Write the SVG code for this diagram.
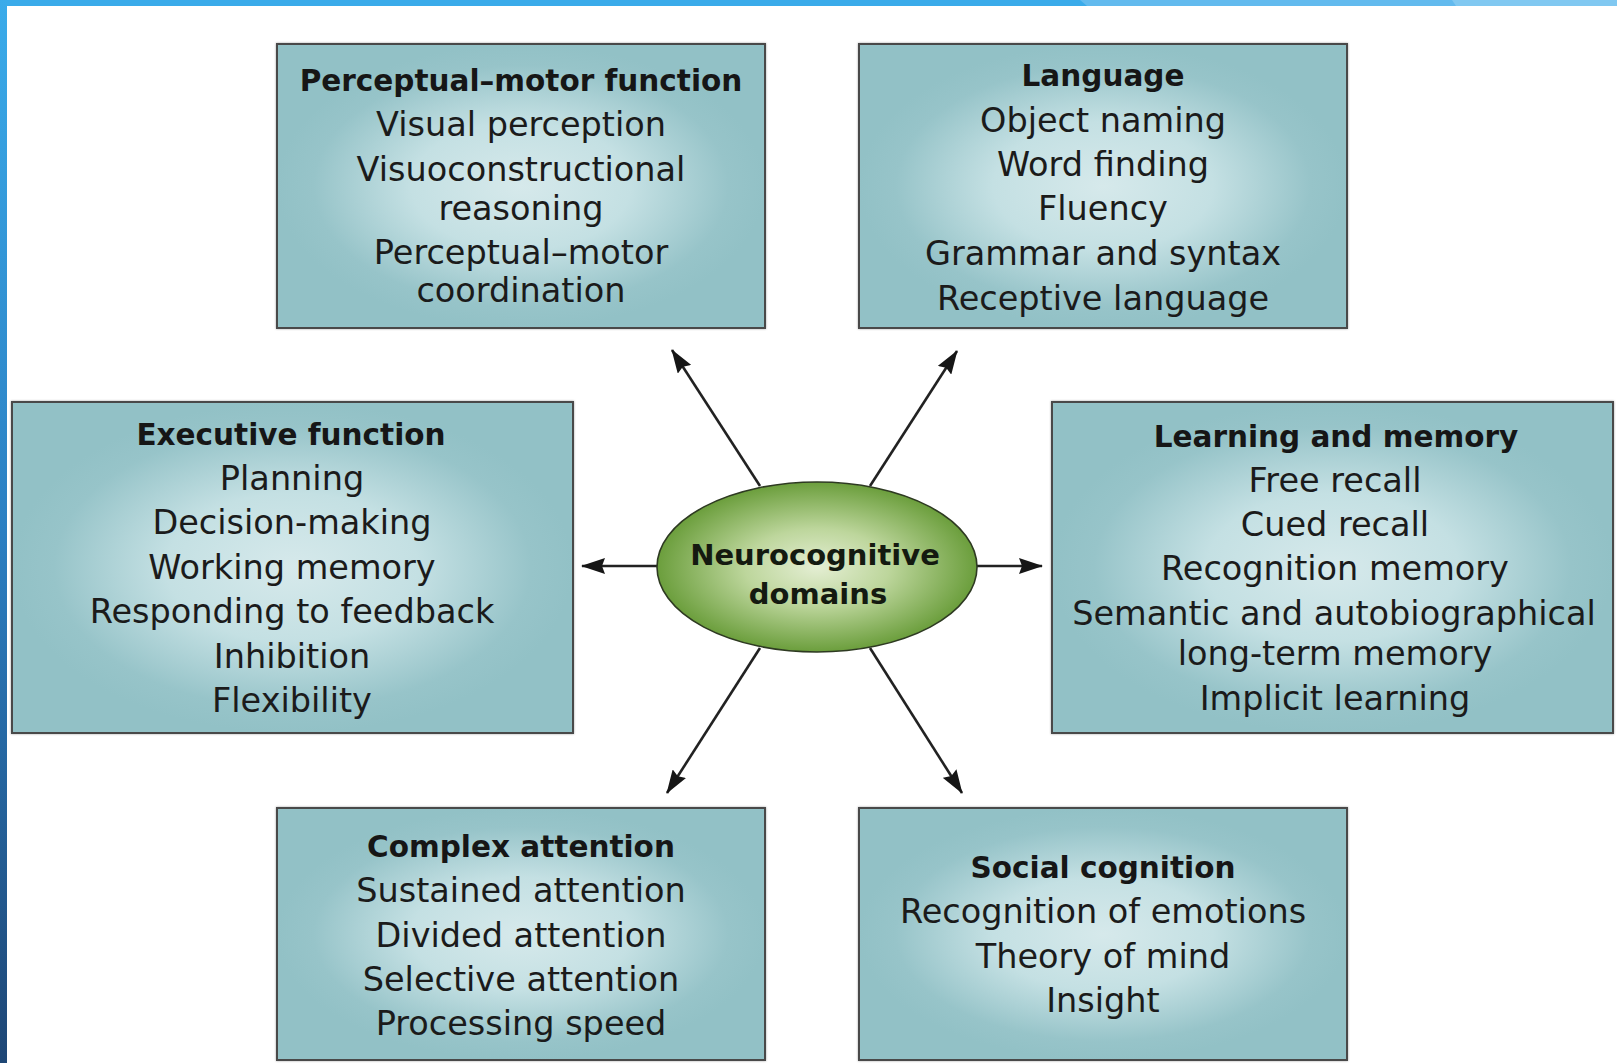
<svg xmlns="http://www.w3.org/2000/svg" width="1617" height="1063" viewBox="0 0 1617 1063">
  <style>
    .box { fill: url(#boxFill); stroke: #4a4a4a; stroke-width: 2; filter: url(#soft); }
    .hub { fill: url(#hubFill); stroke: #2e3a22; stroke-width: 1.6; }
    .t { font-family: "DejaVu Sans", "Liberation Sans", sans-serif; font-size: 33.5px; fill: #1b1b1b; text-anchor: middle; }
    .h { font-family: "DejaVu Sans", "Liberation Sans", sans-serif; font-size: 29.5px; font-weight: bold; fill: #161616; text-anchor: middle; }
    .c { font-family: "DejaVu Sans", "Liberation Sans", sans-serif; font-size: 29px; font-weight: bold; fill: #141a10; text-anchor: middle; }
    .arrow { stroke: #222; stroke-width: 2.6; fill: none; marker-end: url(#head); }
  </style>
  <defs>
    <radialGradient id="boxFill" cx="0.5" cy="0.5" r="0.5">
      <stop offset="0" stop-color="#d6e9eb"/>
      <stop offset="0.45" stop-color="#c4e0e3"/>
      <stop offset="0.85" stop-color="#97c4c9"/>
      <stop offset="1" stop-color="#92c1c6"/>
    </radialGradient>
    <radialGradient id="hubFill" cx="0.5" cy="0.5" r="0.5">
      <stop offset="0" stop-color="#e4eed3"/>
      <stop offset="0.45" stop-color="#bdd69c"/>
      <stop offset="1" stop-color="#6b9e3c"/>
    </radialGradient>
    <linearGradient id="sideBar" x1="0" y1="0" x2="0" y2="1">
      <stop offset="0" stop-color="#3aabea"/>
      <stop offset="0.5" stop-color="#2b7fc2"/>
      <stop offset="1" stop-color="#1e4675"/>
    </linearGradient>
    <filter id="soft" x="-5%" y="-5%" width="110%" height="110%">
      <feDropShadow dx="0" dy="0" stdDeviation="1.2" flood-color="#000" flood-opacity="0.35"/>
    </filter>
    <marker id="head" viewBox="0 0 24 16" refX="23" refY="8" markerWidth="24" markerHeight="16" markerUnits="userSpaceOnUse" orient="auto">
      <path d="M0,0 L24,8 L0,16 L3,8 Z" fill="#161616"/>
    </marker>
  </defs>

  <!-- page frame -->
  <rect x="0" y="0" width="1617" height="1063" fill="#ffffff"/>
  <rect x="0" y="0" width="1617" height="6" fill="#3aabea"/>
  <path d="M1080,0 L1617,0 L1617,6 L1087,6 Z" fill="#62baee"/>
  <path d="M1452,0 L1617,0 L1617,6 L1456,6 Z" fill="#80c8f1"/>
  <rect x="0" y="0" width="7" height="1063" fill="url(#sideBar)"/>

  <!-- connectors -->
  <g id="connectors">
    <line class="arrow" x1="760" y1="486" x2="672" y2="350"/>
    <line class="arrow" x1="870" y1="486" x2="957" y2="351"/>
    <line class="arrow" x1="658" y1="566" x2="582" y2="566"/>
    <line class="arrow" x1="977" y1="566" x2="1042" y2="566"/>
    <line class="arrow" x1="760" y1="648" x2="667" y2="793"/>
    <line class="arrow" x1="870" y1="648" x2="962" y2="793"/>
  </g>

  <g id="perceptual-motor">
    <rect class="box" x="277" y="44" width="488" height="284"/>
    <text class="h" x="521" y="91">Perceptual–motor function</text>
    <text class="t" x="521" y="136">Visual perception</text>
    <text class="t" x="521" y="181">Visuoconstructional</text>
    <text class="t" x="521" y="220">reasoning</text>
    <text class="t" x="521" y="264">Perceptual–motor</text>
    <text class="t" x="521" y="302">coordination</text>
  </g>

  <g id="language">
    <rect class="box" x="859" y="44" width="488" height="284"/>
    <text class="h" x="1103" y="86">Language</text>
    <text class="t" x="1103" y="132">Object naming</text>
    <text class="t" x="1103" y="176">Word finding</text>
    <text class="t" x="1103" y="220">Fluency</text>
    <text class="t" x="1103" y="265">Grammar and syntax</text>
    <text class="t" x="1103" y="310">Receptive language</text>
  </g>

  <g id="executive">
    <rect class="box" x="12" y="402" width="561" height="331"/>
    <text class="h" x="291" y="445">Executive function</text>
    <text class="t" x="292" y="490">Planning</text>
    <text class="t" x="292" y="534">Decision-making</text>
    <text class="t" x="292" y="579">Working memory</text>
    <text class="t" x="292" y="623">Responding to feedback</text>
    <text class="t" x="292" y="668">Inhibition</text>
    <text class="t" x="292" y="712">Flexibility</text>
  </g>

  <g id="learning-memory">
    <rect class="box" x="1052" y="402" width="561" height="331"/>
    <text class="h" x="1336" y="447">Learning and memory</text>
    <text class="t" x="1335" y="492">Free recall</text>
    <text class="t" x="1335" y="536">Cued recall</text>
    <text class="t" x="1335" y="580">Recognition memory</text>
    <text class="t" x="1334" y="625">Semantic and autobiographical</text>
    <text class="t" x="1335" y="665">long-term memory</text>
    <text class="t" x="1335" y="710">Implicit learning</text>
  </g>

  <g id="complex-attention">
    <rect class="box" x="277" y="808" width="488" height="252"/>
    <text class="h" x="521" y="857">Complex attention</text>
    <text class="t" x="521" y="902">Sustained attention</text>
    <text class="t" x="521" y="947">Divided attention</text>
    <text class="t" x="521" y="991">Selective attention</text>
    <text class="t" x="521" y="1035">Processing speed</text>
  </g>

  <g id="social-cognition">
    <rect class="box" x="859" y="808" width="488" height="252"/>
    <text class="h" x="1103" y="878">Social cognition</text>
    <text class="t" x="1103" y="923">Recognition of emotions</text>
    <text class="t" x="1103" y="968">Theory of mind</text>
    <text class="t" x="1103" y="1012">Insight</text>
  </g>

  <g id="neurocognitive-domains">
    <ellipse class="hub" cx="817" cy="567" rx="160" ry="85"/>
    <text class="c" x="815" y="565">Neurocognitive</text>
    <text class="c" x="818" y="604">domains</text>
  </g>
</svg>
